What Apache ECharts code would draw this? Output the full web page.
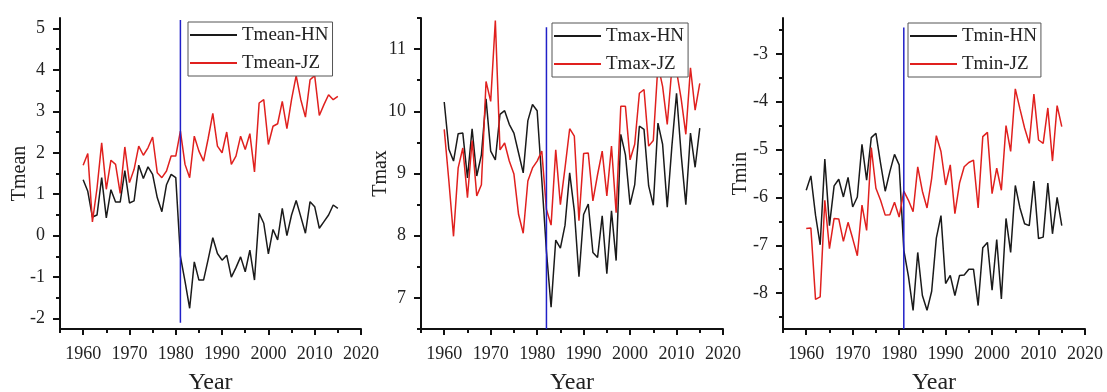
<!DOCTYPE html>
<html>
<head>
<meta charset="utf-8">
<script src="https://cdn.jsdelivr.net/npm/echarts@6/dist/echarts.min.js"></script>
<style>
html, body { margin: 0; padding: 0; background: #fff; }
#chart { width: 1107px; height: 392px; }
</style>
</head>
<body>
<div id="chart"></div>
<script>
var years = [1960,1961,1962,1963,1964,1965,1966,1967,1968,1969,
             1970,1971,1972,1973,1974,1975,1976,1977,1978,1979,
             1980,1981,1982,1983,1984,1985,1986,1987,1988,1989,
             1990,1991,1992,1993,1994,1995,1996,1997,1998,1999,
             2000,2001,2002,2003,2004,2005,2006,2007,2008,2009,
             2010,2011,2012,2013,2014,2015];

var tmeanHN = [1.35,1.07,0.45,0.50,1.40,0.43,1.11,0.81,0.81,1.57,
               0.79,0.84,1.70,1.38,1.66,1.48,0.92,0.58,1.23,1.48,
               1.40,-0.50,-1.10,-1.75,-0.63,-1.07,-1.07,-0.57,-0.05,-0.43,
               -0.59,-0.47,-1.00,-0.77,-0.51,-0.87,-0.35,-1.07,0.54,0.30,
               -0.44,0.15,-0.10,0.66,0.00,0.50,0.85,0.46,0.06,0.82,
               0.70,0.18,0.34,0.50,0.74,0.66];
var tmeanJZ = [1.70,1.98,0.33,1.15,2.24,1.12,1.82,1.72,1.02,2.14,
               1.28,1.60,2.16,1.94,2.12,2.38,1.52,1.40,1.56,1.92,
               1.92,2.52,1.72,1.40,2.40,2.04,1.80,2.35,2.95,2.16,
               2.00,2.50,1.72,1.92,2.40,2.08,2.46,1.54,3.20,3.28,
               2.20,2.64,2.70,3.24,2.58,3.28,3.86,3.28,2.86,3.76,
               3.86,2.90,3.16,3.40,3.28,3.36];

var tmaxHN = [10.15,9.39,9.20,9.64,9.65,8.93,9.72,8.96,9.30,10.20,
              9.36,9.22,9.95,10.01,9.79,9.65,9.33,9.01,9.85,10.11,
              10.01,8.90,7.75,6.85,7.93,7.80,8.17,9.01,8.40,7.34,
              8.34,8.51,7.73,7.65,8.32,7.39,8.40,7.60,9.63,9.30,
              8.50,8.82,9.76,9.71,8.80,8.49,9.81,9.47,8.46,9.44,
              10.29,9.30,8.50,9.65,9.10,9.73];
var tmaxJZ = [9.71,8.88,7.99,9.09,9.41,8.61,9.53,8.64,8.82,10.48,
              10.16,11.46,9.38,9.49,9.20,8.99,8.34,8.04,8.88,9.09,
              9.20,9.36,8.42,8.17,9.38,8.50,9.09,9.72,9.60,8.24,
              9.32,9.33,8.56,8.98,9.36,8.64,9.44,8.37,10.08,10.08,
              9.22,9.47,10.29,10.35,9.44,9.53,10.75,10.40,9.79,10.70,
              10.65,10.20,9.63,10.70,10.02,10.45];

var tminHN = [-5.85,-5.55,-6.37,-6.99,-5.20,-6.59,-5.76,-5.62,-5.99,-5.58,
              -6.20,-5.99,-4.89,-5.64,-4.75,-4.66,-5.29,-5.87,-5.46,-5.10,
              -5.32,-7.10,-7.65,-8.36,-7.15,-8.05,-8.36,-7.96,-6.85,-6.38,
              -7.80,-7.63,-8.05,-7.63,-7.62,-7.50,-7.50,-8.26,-7.05,-6.94,
              -7.94,-6.88,-8.12,-6.44,-7.15,-5.75,-6.22,-6.55,-6.59,-5.66,
              -6.86,-6.83,-5.70,-6.76,-6.00,-6.59];
var tminJZ = [-6.65,-6.64,-8.13,-8.08,-6.06,-7.07,-6.44,-6.45,-6.92,-6.52,
              -6.86,-7.22,-6.16,-6.69,-4.96,-5.81,-6.06,-6.37,-6.36,-6.10,
              -6.41,-5.87,-6.06,-6.30,-5.36,-5.87,-6.22,-5.60,-4.71,-5.04,
              -5.74,-5.32,-6.34,-5.70,-5.36,-5.27,-5.22,-6.22,-4.73,-4.64,
              -5.92,-5.39,-5.85,-4.50,-5.04,-3.73,-4.15,-4.55,-4.87,-3.84,
              -4.80,-4.87,-4.13,-5.24,-4.08,-4.52];

// abrupt-change year marked by the blue line, and its vertical extent
var breakYears = [1981, 1982, 1981];
var breakLow = [-2.1, 6.5, -8.75];
var breakHigh = [5.2, 11.35, -2.45];

var yearTicks = [1960,1970,1980,1990,2000,2010,2020];
var yearMinor = [1955,1965,1975,1985,1995,2005,2015];
var tmeanTicks = [-2,-1,0,1,2,3,4,5];
var tmeanMinor = [-1.5,-0.5,0.5,1.5,2.5,3.5,4.5];
var tmaxTicks = [7,8,9,10,11];
var tmaxMinor = [6.5,7.5,8.5,9.5,10.5,11.5];
var tminTicks = [-8,-7,-6,-5,-4,-3];
var tminMinor = [-8.5,-7.5,-6.5,-5.5,-4.5,-3.5,-2.5];

var FONT = 'Liberation Serif';
var AXIS = '#111';

var panels = [
    { name: 'Tmean', hn: tmeanHN, jz: tmeanJZ, left: 60, width: 301, yMin: -2.25, yMax: 5.25,
      ticks: tmeanTicks, minor: tmeanMinor, nameGap: 30, legendLeft: 188, legendTop: 22 },
    { name: 'Tmax', hn: tmaxHN, jz: tmaxJZ, left: 421, width: 302, yMin: 6.5, yMax: 11.5,
      ticks: tmaxTicks, minor: tmaxMinor, nameGap: 30, legendLeft: 552, legendTop: 23 },
    { name: 'Tmin', hn: tminHN, jz: tminJZ, left: 783, width: 302, yMin: -8.75, yMax: -2.25,
      ticks: tminTicks, minor: tminMinor, nameGap: 32, legendLeft: 908, legendTop: 23 }
];

var option = { animation: false, backgroundColor: '#fff', grid: [], xAxis: [], yAxis: [], series: [], legend: [] };

panels.forEach(function (p, i) {
    option.grid.push({ left: p.left, top: 18, width: p.width, height: 311, outerBoundsMode: 'none', containLabel: false });

    option.xAxis.push({
        type: 'value', gridIndex: i, min: 1955, max: 2020, position: 'bottom',
        axisLine: { show: true, onZero: false, lineStyle: { color: AXIS, width: 2 } },
        axisTick: { show: true, length: 6, customValues: yearTicks, lineStyle: { color: AXIS, width: 2 } },
        axisLabel: { customValues: yearTicks, fontFamily: FONT, fontSize: 18, color: '#222', margin: 16,
                     formatter: function (v) { return String(v); } },
        splitLine: { show: false },
        name: 'Year', nameLocation: 'middle', nameGap: 42,
        nameTextStyle: { fontFamily: FONT, fontSize: 24, color: '#222' }
    });
    option.xAxis.push({
        type: 'value', gridIndex: i, min: 1955, max: 2020, position: 'bottom',
        axisLine: { show: false, onZero: false },
        axisTick: { show: true, length: 4, customValues: yearMinor, lineStyle: { color: AXIS, width: 2 } },
        axisLabel: { show: false },
        splitLine: { show: false }
    });

    option.yAxis.push({
        type: 'value', gridIndex: i, min: p.yMin, max: p.yMax, position: 'left',
        axisLine: { show: true, onZero: false, lineStyle: { color: AXIS, width: 2 } },
        axisTick: { show: true, length: 7, customValues: p.ticks, lineStyle: { color: AXIS, width: 2 } },
        axisLabel: { customValues: p.ticks, fontFamily: FONT, fontSize: 18, color: '#222', margin: 15 },
        splitLine: { show: false },
        name: p.name, nameLocation: 'middle', nameGap: p.nameGap, nameMoveOverlap: false,
        nameTextStyle: { fontFamily: FONT, fontSize: 20, color: '#222' }
    });
    option.yAxis.push({
        type: 'value', gridIndex: i, min: p.yMin, max: p.yMax, position: 'left',
        axisLine: { show: false, onZero: false },
        axisTick: { show: true, length: 4, customValues: p.minor, lineStyle: { color: AXIS, width: 2 } },
        axisLabel: { show: false },
        splitLine: { show: false }
    });

    var hnData = years.map(function (y, k) { return [y, p.hn[k]]; });
    var jzData = years.map(function (y, k) { return [y, p.jz[k]]; });

    option.series.push({
        type: 'line', name: p.name + '-HN', xAxisIndex: 2 * i, yAxisIndex: 2 * i,
        data: hnData, symbol: 'none', z: 2,
        lineStyle: { color: '#1a1a1a', width: 1.5 }, itemStyle: { color: '#1a1a1a' }
    });
    option.series.push({
        type: 'line', name: p.name + '-JZ', xAxisIndex: 2 * i, yAxisIndex: 2 * i,
        data: jzData, symbol: 'none', z: 2,
        lineStyle: { color: '#e0201e', width: 1.5 }, itemStyle: { color: '#e0201e' }
    });
    option.series.push({
        type: 'line', name: 'break' + i, xAxisIndex: 2 * i, yAxisIndex: 2 * i,
        data: [[breakYears[i], breakLow[i]], [breakYears[i], breakHigh[i]]],
        symbol: 'none', z: 3, silent: true,
        lineStyle: { color: '#2020c8', width: 1.5 }
    });

    option.legend.push({
        data: [p.name + '-HN', p.name + '-JZ'],
        orient: 'vertical', left: p.legendLeft, top: p.legendTop,
        icon: 'rect', itemWidth: 47, itemHeight: 2, itemGap: 8, padding: [3, 4, 3, 2],
        borderColor: '#555', borderWidth: 1, backgroundColor: '#fff',
        textStyle: { fontFamily: FONT, fontSize: 19, color: '#222', lineHeight: 20 }
    });
});

var chart = echarts.init(document.getElementById('chart'));
chart.setOption(option);
window.addEventListener('resize', function () { chart.resize(); });
</script>
</body>
</html>
